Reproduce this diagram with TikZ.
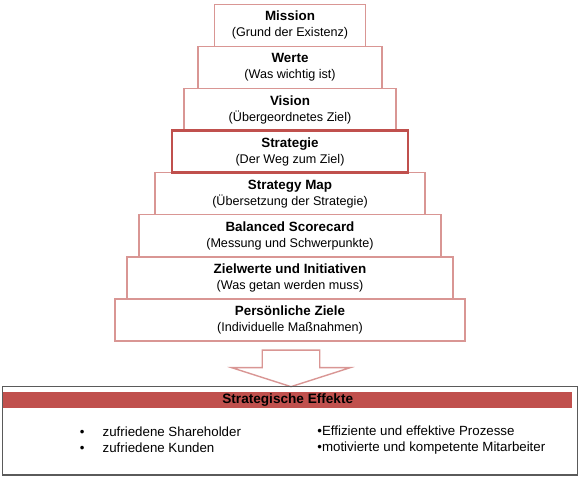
\documentclass[tikz,border=0pt]{standalone}
\usepackage{fontspec}
\setmainfont{Liberation Sans}
\usepackage{tikz}
\usetikzlibrary{positioning, calc}
\definecolor{rosa}{HTML}{D99694}
\definecolor{rot}{HTML}{C0504D}
\definecolor{rahmen}{HTML}{5A5A5A}
\newcommand{\titel}[1]{{\fontsize{13.4}{16}\selectfont\bfseries #1}}

\begin{document}
\begin{tikzpicture}[
    x=1pt, y=1pt,
    stufe/.style={rectangle, draw=rosa, line width=1.4pt, minimum height=42.1pt, inner sep=0pt, outer sep=0pt, align=center, font=\fontsize{12.6}{16}\selectfont},
    kern/.style={stufe, draw=rot, line width=2.4pt},
    pfeilform/.style={draw=rosa, line width=1.4pt, fill=white, line join=miter},
    effekte/.style={rectangle, draw=rahmen, line width=1.5pt, minimum width=575pt, minimum height=88.4pt, inner sep=0pt, outer sep=0pt},
    band/.style={rectangle, fill=rot, minimum width=568.7pt, minimum height=16.3pt, inner sep=0pt, font=\fontsize{13.6}{16}\selectfont\bfseries},
    liste/.style={inner sep=0pt, align=left, font=\fontsize{13.3}{16}\selectfont}
]
\useasboundingbox (0,0) rectangle (582,-480);

% Pyramide
\node[stufe, minimum width=151pt] (mission) at (290,-25.3) {\titel{Mission}\\(Grund der Existenz)};
\node[stufe, minimum width=184pt, below=0pt of mission] (werte) {\titel{Werte}\\(Was wichtig ist)};
\node[stufe, minimum width=212pt, below=0pt of werte] (vision) {\titel{Vision}\\(Übergeordnetes Ziel)};
\node[stufe, minimum width=270pt, below=42.1pt of vision] (stratmap) {\titel{Strategy Map}\\(Übersetzung der Strategie)};
\node[stufe, minimum width=302pt, below=0pt of stratmap] (bsc) {\titel{Balanced Scorecard}\\(Messung und Schwerpunkte)};
\node[stufe, minimum width=326pt, below=0pt of bsc] (zielwerte) {\titel{Zielwerte und Initiativen}\\(Was getan werden muss)};
\node[stufe, minimum width=350pt, below=0pt of zielwerte] (ziele) {\titel{Persönliche Ziele}\\(Individuelle Maßnahmen)};
\node[kern, minimum width=236pt, below=0pt of vision] (strategie) {\titel{Strategie}\\(Der Weg zum Ziel)};

% Pfeil
\coordinate[below=9pt of ziele] (pfeil);
\coordinate (spitze) at ($(pfeil)+(1,-36.6)$);
\draw[pfeilform] ($(pfeil)+(-27.7,0)$) -- ++(57.4,0) -- ++(0,-17.6) -- ++(30.6,0)
    -- (spitze) -- ($(pfeil)+(-58.35,-17.6)$) -- ++(30.6,0) -- cycle;

% Strategische Effekte
\node[effekte, below=0pt of spitze, xshift=-1pt] (effekte) {};
\node[band, anchor=north west] (titel) at ($(effekte.north west)+(0.7,-4.7)$) {Strategische Effekte};
\node[liste, anchor=west] (links) at ($(effekte.west)+(77.2,-8.8)$)
    {\makebox[22.8pt][l]{•}zufriedene Shareholder\\\makebox[22.8pt][l]{•}zufriedene Kunden};
\node[liste, anchor=west] (rechts) at ($(effekte.west)+(314.7,-8.8)$)
    {•Effiziente und effektive Prozesse\\•motivierte und kompetente Mitarbeiter};

\end{tikzpicture}
\end{document}
